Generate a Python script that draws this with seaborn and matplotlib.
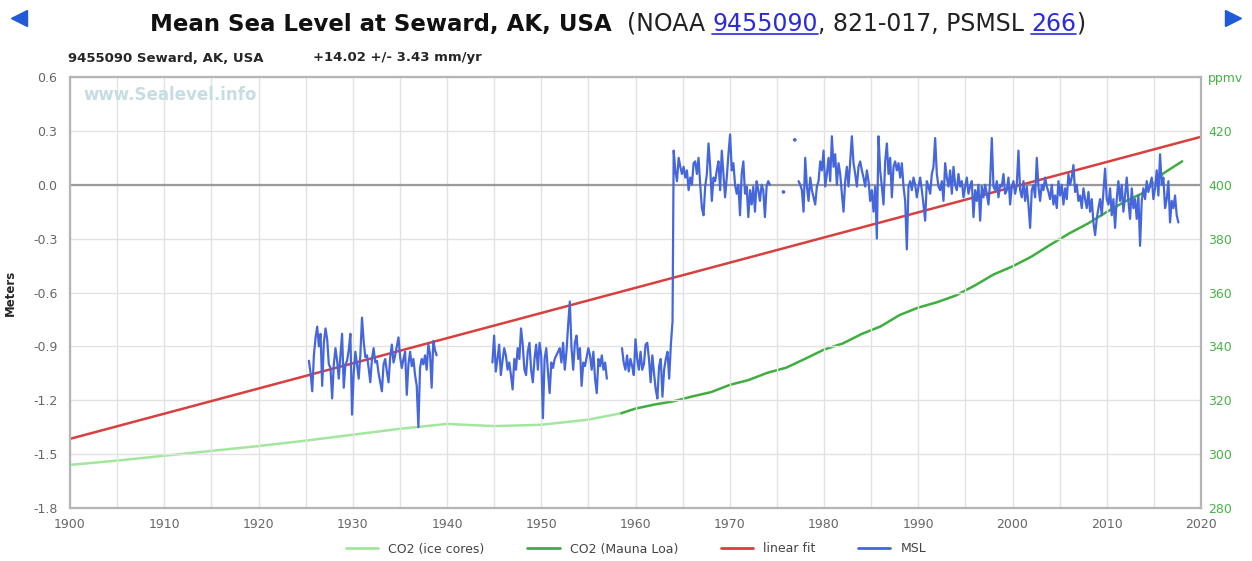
import numpy as np
import pandas as pd
import matplotlib
matplotlib.use('Agg')
import matplotlib.pyplot as plt
from matplotlib.lines import Line2D
from matplotlib.ticker import MultipleLocator
import seaborn as sns

# --- mean sea level (meters), one list per run of data ---
seg1_span = (1925.35, 1938.9)
seg1_msl = [-0.98, -1.05, -1.15, -0.95, -0.85, -0.79, -0.90, -0.83, -1.12, -0.88,
            -0.80, -0.86, -1.00, -1.02, -1.19, -1.00, -0.91, -0.98, -1.08, -0.95,
            -0.83, -1.13, -1.00, -0.98, -0.92, -0.83, -1.28, -1.05, -0.93, -1.00,
            -1.08, -0.95, -0.74, -0.87, -0.96, -0.95, -1.02, -1.10, -0.97, -0.91,
            -0.99, -0.98, -1.05, -1.10, -1.15, -1.00, -0.97, -1.04, -1.10, -0.96,
            -0.89, -0.99, -0.95, -0.90, -0.85, -0.96, -1.02, -0.97, -0.93, -1.17,
            -1.00, -0.93, -1.01, -0.97, -1.06, -1.12, -1.35, -1.02, -0.97, -1.00,
            -0.95, -1.03, -0.89, -0.94, -1.13, -0.87, -0.92, -0.95]

seg2_span = (1944.82, 1956.96)
seg2_msl = [-0.99, -0.84, -1.04, -0.97, -0.89, -1.06, -0.98, -0.91, -0.95, -1.03,
            -0.99, -1.06, -1.14, -0.97, -1.03, -0.91, -0.97, -0.80, -0.89, -1.03,
            -1.06, -0.93, -0.88, -1.03, -1.10, -0.97, -0.89, -1.03, -0.88, -0.95,
            -1.30, -0.97, -0.91, -1.04, -1.16, -0.99, -1.02, -0.97, -0.95, -0.93,
            -0.91, -0.99, -0.88, -1.03, -0.93, -0.78, -0.65, -0.91, -1.03, -0.88,
            -0.84, -0.97, -0.91, -1.12, -0.99, -1.01, -0.96, -0.91, -0.95, -1.03,
            -0.93, -1.08, -1.16, -0.97, -1.01, -0.95, -1.03, -0.99, -1.08]

seg3_span = (1958.57, 1963.93)
seg3_msl = [-0.91, -0.99, -1.03, -0.95, -1.04, -0.97, -1.01, -1.06, -0.86, -0.97,
            -1.03, -0.93, -1.03, -1.00, -0.89, -0.88, -0.97, -1.10, -0.95, -1.05,
            -1.14, -1.19, -1.01, -0.97, -1.18, -1.03, -0.97, -0.93, -1.08, -0.89,
            -0.76]

# after the 1964 earthquake
seg4_span = (1964.05, 1974.26)
seg4_msl = [0.19, 0.08, 0.02, 0.15, 0.10, 0.06, 0.10, 0.04, 0.08, -0.03,
            0.04, 0.00, 0.12, 0.13, 0.06, 0.15, 0.00, -0.13, -0.17, -0.01,
            0.06, 0.23, 0.10, -0.09, 0.04, 0.02, 0.08, 0.13, -0.03, 0.19,
            0.06, -0.07, 0.04, 0.17, 0.28, 0.08, 0.12, 0.00, -0.05, 0.00,
            -0.17, 0.06, 0.13, -0.05, -0.01, -0.18, -0.03, -0.11, -0.01, -0.15,
            0.02, -0.03, -0.09, 0.00, -0.03, -0.18, -0.01, 0.02, 0.00]

lone_years = [1975.7, 1976.9]
lone_msl = [-0.04, 0.25]

seg5_span = (1977.3, 2017.6)
seg5_msl = [0.02, 0.00, -0.03, -0.15, 0.15, -0.01, -0.09, 0.04, -0.03, -0.07,
            -0.11, -0.01, 0.02, 0.13, 0.08, 0.19, -0.01, 0.06, 0.15, 0.02,
            0.27, 0.10, 0.17, 0.00, 0.12, 0.06, -0.05, -0.15, 0.02, 0.10,
            -0.01, 0.13, 0.27, 0.12, 0.06, -0.01, 0.10,
            0.13, 0.08, 0.04, -0.01, 0.08, 0.02, -0.09, -0.03, -0.15, -0.01,
            -0.30, 0.27, 0.08, -0.01, -0.11, 0.13, 0.23, 0.06, 0.15, -0.07,
            0.10, 0.13, 0.08, 0.12, 0.04, 0.12, -0.01, -0.09, -0.36, -0.01,
            0.02, -0.03, 0.04, 0.00, -0.07, -0.01, 0.04, -0.03, -0.11, -0.20,
            0.02, -0.01, -0.05, 0.06, 0.10, 0.26, 0.06, -0.01, -0.03, 0.02,
            -0.09, 0.12, 0.04, -0.01, 0.08, -0.05, 0.10, 0.00, -0.03, 0.06,
            -0.01, 0.02, -0.07, -0.01, 0.04, -0.05, -0.01, 0.02, -0.18, -0.03,
            -0.09, 0.00, -0.20, -0.01, -0.07, 0.00, -0.05, -0.11, 0.02, 0.26,
            -0.01, -0.03, 0.02, -0.07, 0.00, -0.01, 0.06, -0.05, -0.03, 0.04,
            -0.11, -0.01, 0.02, -0.05, 0.00, 0.19, -0.03, -0.07, 0.02, -0.09,
            -0.01, -0.11, -0.24, -0.03, 0.00, -0.07, 0.15, -0.01, -0.09, 0.00,
            -0.03, 0.04, -0.01,
            -0.04, -0.08, 0.00, -0.11, -0.06, -0.13, 0.02, -0.06, 0.00, -0.11,
            -0.02, -0.08, 0.06, 0.00, 0.04, 0.11, -0.04, 0.00, -0.09, -0.06,
            -0.13, -0.02, -0.08, -0.13, -0.04, -0.15, -0.08, -0.21, -0.28, -0.19,
            -0.13, -0.08, -0.17, -0.04, 0.09, -0.08, -0.11, -0.02, -0.17, -0.08,
            -0.24, -0.08, 0.02, -0.09, 0.00, -0.15, -0.06, 0.04, -0.09, -0.19,
            -0.02, -0.13, -0.08, -0.19, -0.06, -0.34, -0.09, -0.02, -0.08, 0.02,
            -0.04, 0.00, 0.04, -0.08, -0.02, 0.08, -0.06, 0.17, 0.00, 0.04,
            -0.13, -0.08, 0.02, -0.21, -0.09, -0.13, -0.06, -0.17, -0.21]

# linear fit end points (meters)
fit_years = [1900, 2020]
fit_msl = [-1.415, 0.267]

# CO2 (ppmv)
ice_years = [1900, 1905, 1910, 1915, 1920, 1925, 1930, 1935, 1940, 1945, 1950, 1955, 1958.5]
ice_ppm = [296.0, 297.6, 299.4, 301.2, 303.0, 305.0, 307.2, 309.4, 311.2, 310.4, 310.9, 312.8, 315.2]

ml_years = [1958.5] + list(range(1960, 2019, 2))
ml_ppm = [315.2, 316.9, 318.4, 319.6, 321.4, 323.0, 325.7, 327.5, 330.2, 332.1,
          335.4, 338.8, 341.1, 344.6, 347.4, 351.6, 354.4, 356.4, 358.9, 362.6,
          366.7, 369.7, 373.3, 377.7, 381.9, 385.6, 389.9, 393.9, 397.2, 404.2, 408.7]

year_ticks = list(range(1900, 2021, 10))
meter_ticks = [-1.8, -1.5, -1.2, -0.9, -0.6, -0.3, 0.0, 0.3, 0.6]
meter_labels = ['-1.8', '-1.5', '-1.2', '-0.9', '-0.6', '-0.3', '0.0', '0.3', '0.6']
ppmv_ticks = [280, 300, 320, 340, 360, 380, 400, 420, 440]
ppmv_labels = ['280', '300', '320', '340', '360', '380', '400', '420', 'ppmv']

legend_labels = ['CO2 (ice cores)', 'CO2 (Mauna Loa)', 'linear fit', 'MSL']

c_ice = '#a3e6a0'
c_ml = '#3fae3f'
c_fit = '#d8403f'
c_msl = '#4667db'
c_ppm_txt = '#47b347'

# build the MSL frame; seg 3 and 4 share a unit so the 1964 jump is drawn
parts = []
for (a, b), vals, unit in [(seg1_span, seg1_msl, 1), (seg2_span, seg2_msl, 2),
                           (seg3_span, seg3_msl, 3), (seg4_span, seg4_msl, 3),
                           (seg5_span, seg5_msl, 5)]:
    parts.append(pd.DataFrame({'year': np.linspace(a, b, len(vals)), 'msl': vals, 'seg': unit}))
msl_df = pd.concat(parts, ignore_index=True)

sns.set_style('white')
plt.rcParams['font.family'] = ['DejaVu Sans']
plt.rcParams['axes.unicode_minus'] = False

W, H = 1252, 561
fig = plt.figure(figsize=(W / 100, H / 100), dpi=100)
ax = fig.add_axes([70 / W, 1 - 508 / H, (1201 - 70) / W, (508 - 77) / H])
ax2 = ax.twinx()
ax.set_zorder(2)
ax2.set_zorder(1)
ax.patch.set_visible(False)

# CO2 on the right axis
sns.lineplot(x=ice_years, y=ice_ppm, ax=ax2, color=c_ice, lw=1.8)
sns.lineplot(x=ml_years, y=ml_ppm, ax=ax2, color=c_ml, lw=1.8)

# sea level on the left axis
sns.lineplot(x=fit_years, y=fit_msl, ax=ax, color=c_fit, lw=1.8)
sns.lineplot(data=msl_df, x='year', y='msl', units='seg', estimator=None,
             ax=ax, color=c_msl, lw=1.6)
sns.scatterplot(x=lone_years, y=lone_msl, ax=ax, color=c_msl, s=7, edgecolor='none')

ax.axhline(0, color='#9a9a9a', lw=1.6, zorder=1)

ax.set_xlim(1900, 2020)
ax.set_ylim(-1.8, 0.6)
ax2.set_ylim(280, 440)
ax.set_xticks(year_ticks)
ax.xaxis.set_minor_locator(MultipleLocator(5))
ax.set_yticks(meter_ticks)
ax.set_yticklabels(meter_labels)
ax2.set_yticks(ppmv_ticks)
ax2.set_yticklabels(ppmv_labels)

ax.grid(True, axis='x', which='both', color='#e2e2e2', lw=1)
ax.grid(True, axis='y', which='major', color='#e2e2e2', lw=1)
ax.set_axisbelow(True)

ax.tick_params(axis='both', which='both', length=0, labelsize=9, labelcolor='#666666')
ax.tick_params(axis='y', pad=9)
ax.tick_params(axis='x', pad=7)
ax2.tick_params(axis='y', length=0, labelsize=9, labelcolor=c_ppm_txt, pad=5)

for sp in ax.spines.values():
    sp.set_color('#b5b5b5')
    sp.set_linewidth(1.6)
for sp in ax2.spines.values():
    sp.set_visible(False)

ax.set_xlabel('')
ax.set_ylabel('Meters', weight='bold', size=8.5)
ax.yaxis.set_label_coords(-0.047, 0.5)
ax2.set_ylabel('')

ax.text(0.0115, 0.958, 'www.Sealevel.info', transform=ax.transAxes, color='#c6dde2',
        size=12, weight='bold', va='center')

# legend under the chart
handles = [Line2D([], [], color=c, lw=2) for c in (c_ice, c_ml, c_fit, c_msl)]
fig.legend(handles, legend_labels, loc='center', bbox_to_anchor=(636 / W, 1 - 549 / H),
           ncol=4, frameon=False, fontsize=9, handlelength=2.6, columnspacing=3.4,
           labelcolor='#444444')

# header lines
fig.text(68 / W, 1 - 58 / H, '9455090 Seward, AK, USA', weight='bold', size=9.5, va='center')
fig.text(313 / W, 1 - 58 / H, '+14.02 +/- 3.43 mm/yr', weight='bold', size=9.5, va='center')

renderer = fig.canvas.get_renderer()
title_y = 1 - 31 / H
pieces = [('Mean Sea Level at Seward, AK, USA', 'bold', '#111111', 16.5, False),
          ('  (NOAA ', 'normal', '#222222', 17, False),
          ('9455090', 'normal', '#2b2bdb', 17, True),
          (', 821-017, PSMSL ', 'normal', '#222222', 17, False),
          ('266', 'normal', '#2b2bdb', 17, True),
          (')', 'normal', '#222222', 17, False)]
x = 150 / W
for s, w, c, fs, link in pieces:
    t = fig.text(x, title_y, s, weight=w, color=c, size=fs, va='baseline')
    bb = t.get_window_extent(renderer).transformed(fig.transFigure.inverted())
    if link:
        fig.add_artist(Line2D([bb.x0, bb.x1], [title_y - 3 / H] * 2, color=c, lw=1.2,
                              transform=fig.transFigure))
    x = bb.x1

fig.add_artist(Line2D([19 / W], [1 - 18 / H], marker='<', ms=12, color='#1f5ad9',
                      transform=fig.transFigure))
fig.add_artist(Line2D([1233 / W], [1 - 18 / H], marker='>', ms=12, color='#1f5ad9',
                      transform=fig.transFigure))

fig.savefig('out.png', dpi=100)
